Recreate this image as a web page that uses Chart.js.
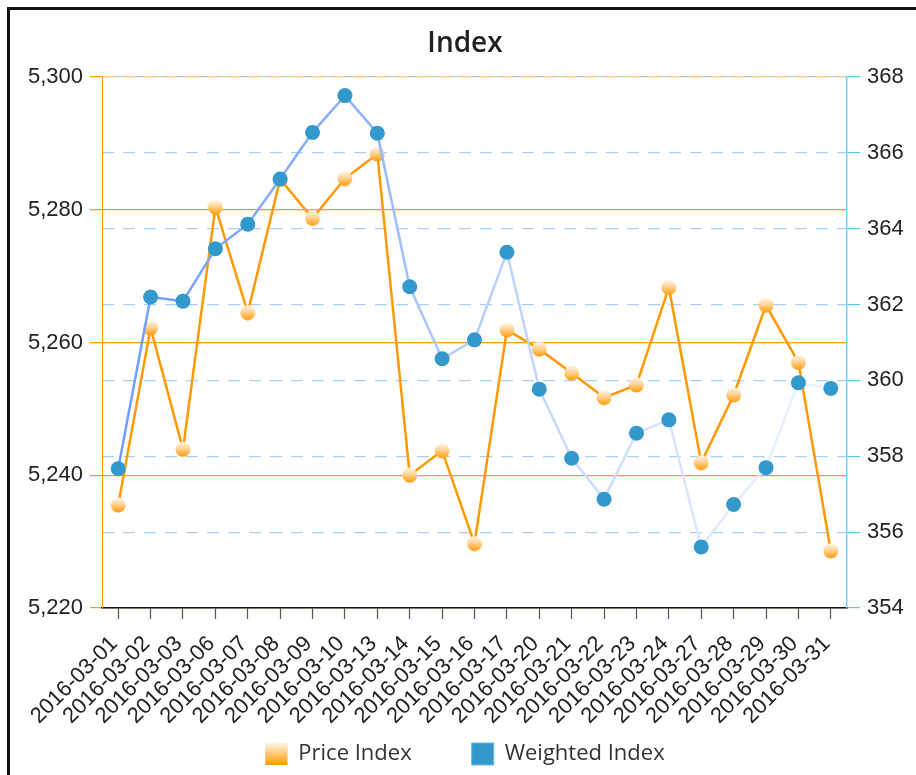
<!DOCTYPE html>
<html>
<head>
<meta charset="utf-8">
<script src="https://cdn.jsdelivr.net/npm/chart.js@4.4.0/dist/chart.umd.min.js"></script>
<style>
  html, body { margin: 0; padding: 0; background: #fff; overflow: hidden; width: 916px; height: 775px; }
  #frame { position: absolute; left: 7px; top: 7px; width: 1000px; height: 1000px; border: 3px solid #111; box-sizing: border-box; }
  #chart { position: absolute; left: 10px; top: 10px; }
</style>
</head>
<body>
<div id="frame"></div>
<canvas id="chart" width="910" height="765"></canvas>
<script>
// data
const dates = [
  '2016-03-01', '2016-03-02', '2016-03-03', '2016-03-06', '2016-03-07', '2016-03-08',
  '2016-03-09', '2016-03-10', '2016-03-13', '2016-03-14', '2016-03-15', '2016-03-16',
  '2016-03-17', '2016-03-20', '2016-03-21', '2016-03-22', '2016-03-23', '2016-03-24',
  '2016-03-27', '2016-03-28', '2016-03-29', '2016-03-30', '2016-03-31'
]
const priceIndex = [
  5235.5, 5262.2, 5243.9, 5280.4, 5264.5, 5284.6,
  5278.7, 5284.7, 5288.4, 5240.0, 5243.7, 5229.7,
  5261.9, 5259.0, 5255.4, 5251.7, 5253.6, 5268.3,
  5241.9, 5252.1, 5265.6, 5257.0, 5228.6
]
const weightedIndex = [
  357.67, 362.20, 362.09, 363.47, 364.12, 365.31,
  366.54, 367.51, 366.52, 362.47, 360.57, 361.07,
  363.38, 359.77, 357.95, 356.87, 358.61, 358.96,
  355.61, 356.73, 357.70, 359.94, 359.79
]
const priceTicks = [5220, 5240, 5260, 5280, 5300]
const weightedTicks = [354, 356, 358, 360, 362, 364, 366, 368]

const ORANGE = '#ff9900'
const BLUE = '#3399cc'

// the rotated date labels hang below the x axis box into the legend area,
// so don't clip tick labels to their scale box
Chart.Scale.prototype._computeLabelArea = function () {}

// gradient dot for the price series
function makeDot () {
  const c = document.createElement('canvas')
  c.width = 16
  c.height = 16
  const g = c.getContext('2d')
  const grad = g.createLinearGradient(0, 0.5, 0, 15.5)
  grad.addColorStop(0, '#fff7ea')
  grad.addColorStop(0.45, '#ffd394')
  grad.addColorStop(1, '#ff9a05')
  g.fillStyle = grad
  g.beginPath()
  g.arc(8, 8, 7.5, 0, Math.PI * 2)
  g.fill()
  return c
}
const dot = makeDot()

function fadeLine (context) {
  const chart = context.chart
  const area = chart.chartArea
  if (!area) return '#7aa5ff'
  const g = chart.ctx.createLinearGradient(area.left, 0, area.right, 0)
  g.addColorStop(0, '#6e9cff')
  g.addColorStop(0.36, '#8fb3ff')
  g.addColorStop(0.42, '#a9c5ff')
  g.addColorStop(0.6, '#c4d8ff')
  g.addColorStop(0.8, '#dbe6ff')
  g.addColorStop(1, '#f0f5ff')
  return g
}

// gradient square in the legend for the price series
const legendGradient = {
  id: 'legendGradient',
  afterDraw (chart) {
    const legend = chart.legend
    if (!legend || !legend.legendHitBoxes.length) return
    const hb = legend.legendHitBoxes[0]
    const ctx = chart.ctx
    const size = 22
    const y = hb.top + (hb.height - size) / 2
    const g = ctx.createLinearGradient(0, y, 0, y + size)
    g.addColorStop(0, '#fff5e6')
    g.addColorStop(1, '#ff9900')
    ctx.save()
    ctx.fillStyle = '#fff'
    ctx.fillRect(hb.left, y, size, size)
    ctx.fillStyle = g
    ctx.fillRect(hb.left, y, size, size)
    ctx.restore()
  }
}

const ctx = document.getElementById('chart')

new Chart(ctx, {
  type: 'line',
  data: {
    labels: dates,
    datasets: [
      {
        label: 'Price Index',
        data: priceIndex,
        yAxisID: 'y',
        borderColor: ORANGE,
        backgroundColor: ORANGE,
        borderWidth: 2.5,
        pointStyle: dot,
        pointRadius: 7.5,
        pointHoverRadius: 7.5,
        tension: 0,
        order: 2
      },
      {
        label: 'Weighted Index',
        data: weightedIndex,
        yAxisID: 'y1',
        borderColor: fadeLine,
        backgroundColor: BLUE,
        pointBackgroundColor: BLUE,
        pointBorderWidth: 0,
        borderWidth: 2.5,
        pointRadius: 7.5,
        pointHoverRadius: 7.5,
        tension: 0,
        order: 1
      }
    ]
  },
  options: {
    responsive: false,
    animation: false,
    devicePixelRatio: 1,
    layout: { padding: { left: 0, right: 0, top: 0, bottom: 0 } },
    plugins: {
      tooltip: { enabled: false },
      title: {
        display: true,
        text: 'Index',
        color: '#222',
        font: { family: '"Open Sans", sans-serif', size: 28, weight: '600', lineHeight: 1.2 },
        padding: { top: 17, bottom: 16.4 }
      },
      legend: {
        position: 'bottom',
        labels: {
          color: '#333',
          font: { family: '"Open Sans", sans-serif', size: 22 },
          boxWidth: 22,
          boxHeight: 22,
          padding: 60,
          sort: (a, b) => a.datasetIndex - b.datasetIndex,
          generateLabels (chart) {
            const items = Chart.defaults.plugins.legend.labels.generateLabels(chart)
            items.forEach(function (it) {
              if (it.datasetIndex === 0) {
                it.fillStyle = ORANGE
                it.strokeStyle = 'rgba(0,0,0,0)'
                it.lineWidth = 0
              } else {
                it.fillStyle = BLUE
                it.strokeStyle = '#6cb6e2'
                it.lineWidth = 1
              }
            })
            return items
          }
        }
      }
    },
    scales: {
      x: {
        type: 'category',
        offset: true,
        grid: {
          drawOnChartArea: false,
          drawTicks: true,
          tickLength: 11,
          tickColor: '#555',
          tickWidth: 1.2
        },
        border: { display: true, color: '#111', width: 1.5 },
        ticks: {
          autoSkip: false,
          maxRotation: 45,
          minRotation: 45,
          padding: 12,
          labelOffset: -4,
          color: '#222',
          font: { family: '"Liberation Sans", Arial, sans-serif', size: 22 }
        },
        afterFit (scale) { scale.height = 75 }
      },
      y: {
        position: 'left',
        min: priceTicks[0],
        max: priceTicks[priceTicks.length - 1],
        afterBuildTicks (scale) { scale.ticks = priceTicks.map(v => ({ value: v })) },
        grid: {
          color: (c) => c.tick && c.tick.value === 5300 ? '#c4c4c4' : 'rgba(255,153,0,0.95)',
          tickColor: ORANGE,
          tickLength: 12,
          lineWidth: 1.2
        },
        border: { display: true, color: ORANGE, width: 1 },
        ticks: {
          padding: 7,
          color: '#222',
          font: { family: '"Liberation Sans", Arial, sans-serif', size: 22 }
        },
        afterFit (scale) { scale.width = 92 }
      },
      y1: {
        position: 'right',
        min: weightedTicks[0],
        max: weightedTicks[weightedTicks.length - 1],
        afterBuildTicks (scale) { scale.ticks = weightedTicks.map(v => ({ value: v })) },
        grid: {
          drawOnChartArea: true,
          color: (c) => c.tick && c.tick.value === 368 ? '#ffcc77' : '#a9d1f7',
          tickColor: '#55c8f0',
          tickLength: 13,
          lineWidth: 1.2
        },
        border: { display: true, color: '#6fd3f5', width: 1.5, dash: [12, 9] },
        ticks: {
          padding: 7,
          color: '#222',
          font: { family: '"Liberation Sans", Arial, sans-serif', size: 22 }
        },
        afterFit (scale) { scale.width = 73 }
      }
    }
  },
  plugins: [legendGradient]
})
</script>
</body>
</html>
